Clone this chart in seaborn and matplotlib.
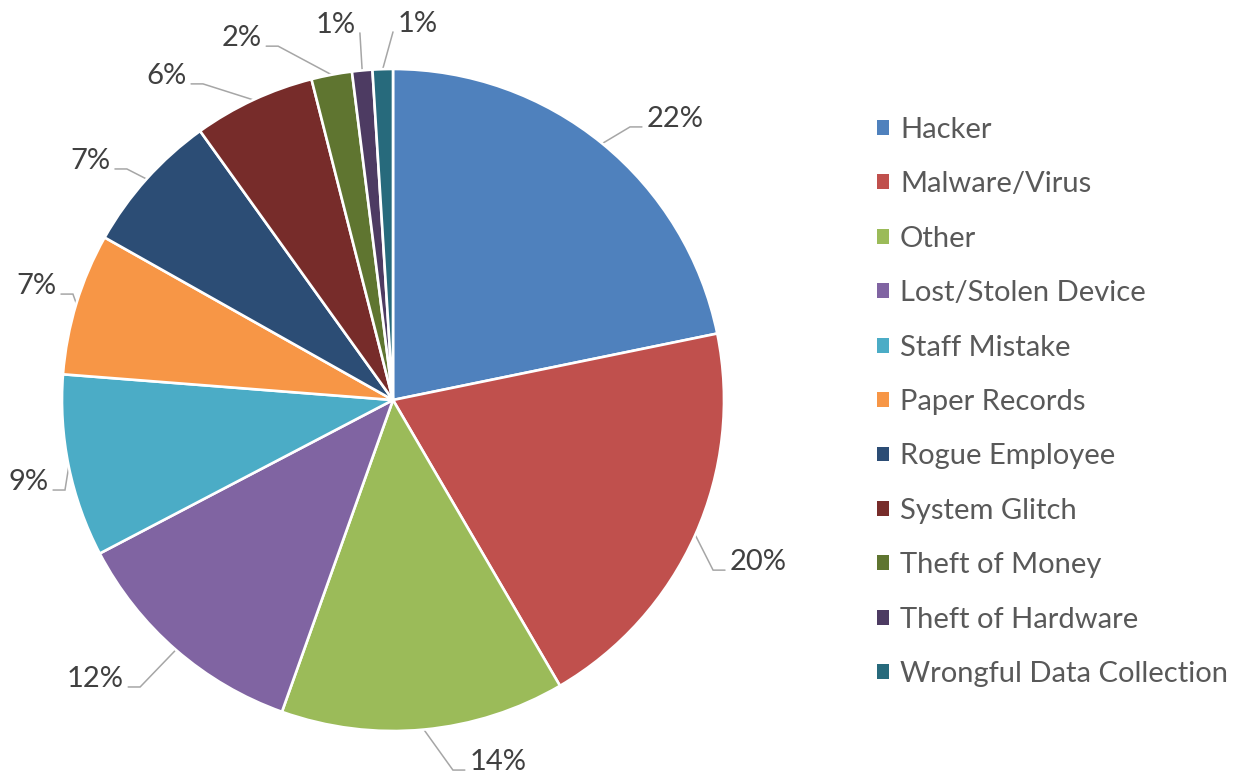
import matplotlib
matplotlib.use('Agg')

import numpy as np
import matplotlib.pyplot as plt
import seaborn as sns

# data
categories = ['Hacker', 'Malware/Virus', 'Other', 'Lost/Stolen Device', 'Staff Mistake',
              'Paper Records', 'Rogue Employee', 'System Glitch', 'Theft of Money',
              'Theft of Hardware', 'Wrongful Data Collection']
values = [22, 20, 14, 12, 9, 7, 7, 6, 2, 1, 1]
pct_labels = ['22%', '20%', '14%', '12%', '9%', '7%', '7%', '6%', '2%', '1%', '1%']
colors = ['#4F81BD', '#C0504D', '#9BBB59', '#8064A2', '#4BACC6', '#F79646',
          '#2C4D75', '#772C2A', '#5F7530', '#4D3B62', '#276A7C']

# label elbow points (axes data units), side of text, length of the short flat segment
label_pos = [(0.716, 0.825), (0.967, -0.514), (0.181, -1.118), (-0.764, -0.867),
             (-0.991, -0.272), (-0.967, 0.320), (-0.804, 0.698), (-0.574, 0.955),
             (-0.347, 1.069), (-0.100, 1.109), (0.000, 1.112)]
label_side = [1, 1, 1, -1, -1, -1, -1, -1, -1, -1, 1]
flat_len = [0.036] * 9 + [0.0, 0.0]

sns.set_theme(style='white')
plt.rcParams['font.family'] = ['Lato', 'DejaVu Sans']

fig = plt.figure(figsize=(12.37, 7.74), dpi=100)
ax = fig.add_axes([62 / 1237, 43 / 774, 662 / 1237, 662 / 774])

wedges, _ = ax.pie(values, colors=colors, startangle=90, counterclock=False,
                   radius=1.0, wedgeprops=dict(edgecolor='white', linewidth=1.9))
ax.set_xlim(-1, 1)
ax.set_ylim(-1, 1)

# percent labels with leader lines
for w, lab, (ex, ey), side, fl in zip(wedges, pct_labels, label_pos, label_side, flat_len):
    mid = np.deg2rad((w.theta1 + w.theta2) / 2)
    sx, sy = np.cos(mid), np.sin(mid)
    fx = ex + side * fl
    ax.plot([sx, ex, fx], [sy, ey, ey], color='#A6A6A6', lw=1.1,
            solid_joinstyle='miter', clip_on=False, zorder=0.5)
    ax.text(fx + side * 0.013, ey, lab, ha='left' if side > 0 else 'right',
            va='baseline', fontsize=21, color='#404040')

# legend
leg = fig.legend(wedges, categories, loc='center left',
                 bbox_to_anchor=(877 / 1237, 1 - 402 / 774), frameon=False,
                 fontsize=21, handlelength=0.41, handleheight=0.41,
                 handletextpad=0.38, labelspacing=0.975, borderpad=0, borderaxespad=0)
for t in leg.get_texts():
    t.set_color('#595959')
for h in leg.legend_handles:
    h.set_edgecolor('none')

plt.savefig('out.png', dpi=100, facecolor='white')
